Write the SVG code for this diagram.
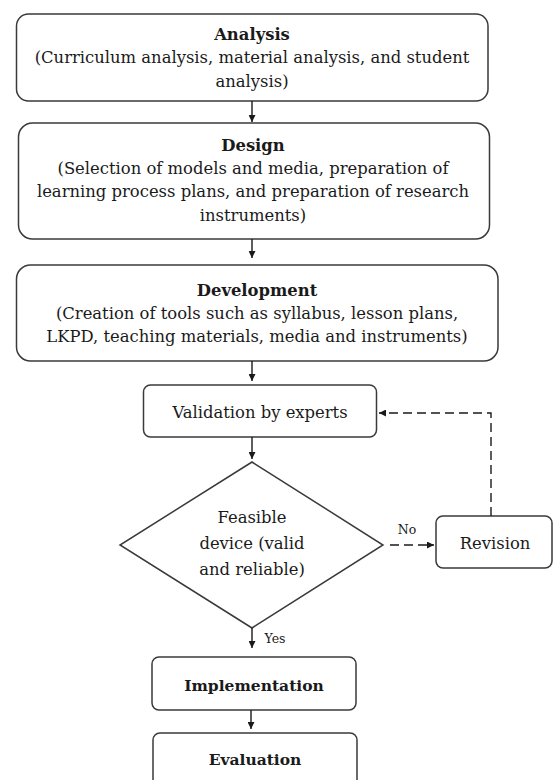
<svg xmlns="http://www.w3.org/2000/svg" width="553" height="780" viewBox="0 0 553 780">
<style>
.box{fill:#fff;stroke:#3a3a3a;stroke-width:1.5}
.t{font-family:"DejaVu Serif","Liberation Serif",serif;font-size:16.4px;fill:#1a1a1a;text-anchor:middle}
.b{font-weight:bold}
.m{font-size:15.5px}
.s{font-size:12.5px}
.ln{fill:none;stroke:#1a1a1a;stroke-width:1.4}
.d{stroke-dasharray:9 5}
</style>
<defs>
<marker id="ah" viewBox="0 0 10 10" refX="10" refY="5" markerWidth="7" markerHeight="7" markerUnits="userSpaceOnUse" orient="auto">
<path d="M0,0 L10,5 L0,10 z" fill="#1a1a1a"/>
</marker>
</defs>
<rect width="553" height="780" fill="#fff"/>
<g id="analysis">
<rect class="box" x="16.5" y="14" width="471.5" height="87" rx="12"/>
<text class="t b" x="252" y="40">Analysis</text>
<text class="t" x="252" y="63">(Curriculum analysis, material analysis, and student</text>
<text class="t" x="252" y="87">analysis)</text>
</g>
<g id="design">
<rect class="box" x="18.5" y="123" width="471" height="116" rx="14"/>
<text class="t b" x="253" y="151">Design</text>
<text class="t" x="253" y="174">(Selection of models and media, preparation of</text>
<text class="t" x="253" y="197">learning process plans, and preparation of research</text>
<text class="t" x="253" y="221">instruments)</text>
</g>
<g id="development">
<rect class="box" x="16.5" y="265" width="481.5" height="96" rx="14"/>
<text class="t b" x="257" y="296">Development</text>
<text class="t" x="257" y="319">(Creation of tools such as syllabus, lesson plans,</text>
<text class="t" x="257" y="342">LKPD, teaching materials, media and instruments)</text>
</g>
<g id="validation">
<rect class="box" x="143.5" y="385" width="233" height="52" rx="7"/>
<text class="t" x="260" y="418">Validation by experts</text>
</g>
<g id="feasible">
<polygon class="box" points="252,462 383,545 252,628 120,545"/>
<text class="t" x="252" y="523">Feasible</text>
<text class="t" x="252" y="549">device (valid</text>
<text class="t" x="252" y="575">and reliable)</text>
</g>
<g id="revision">
<rect class="box" x="436" y="516" width="116" height="52" rx="7"/>
<text class="t" x="495" y="549" font-size="17">Revision</text>
</g>
<g id="implementation">
<rect class="box" x="152" y="657" width="204" height="53" rx="7"/>
<text class="t b m" x="254" y="691">Implementation</text>
</g>
<g id="evaluation">
<rect class="box" x="153" y="733" width="204" height="60" rx="7"/>
<text class="t b m" x="255" y="765">Evaluation</text>
</g>
<g id="connectors">
<line class="ln" x1="252" y1="101" x2="252" y2="122" marker-end="url(#ah)"/>
<line class="ln" x1="252" y1="239" x2="252" y2="258" marker-end="url(#ah)"/>
<line class="ln" x1="252" y1="361" x2="252" y2="381" marker-end="url(#ah)"/>
<line class="ln" x1="252" y1="437" x2="252" y2="459" marker-end="url(#ah)"/>
<line class="ln" x1="252" y1="628" x2="252" y2="648" marker-end="url(#ah)"/>
<line class="ln" x1="251" y1="710" x2="251" y2="729" marker-end="url(#ah)"/>
<line class="ln d" x1="390" y1="545" x2="434" y2="545" stroke-dasharray="6 5" marker-end="url(#ah)"/>
<polyline class="ln d" points="491,516 491,413 379,413" marker-end="url(#ah)"/>
<text class="t s" x="407" y="534">No</text>
<text class="t s" x="275" y="643">Yes</text>
</g>
</svg>
